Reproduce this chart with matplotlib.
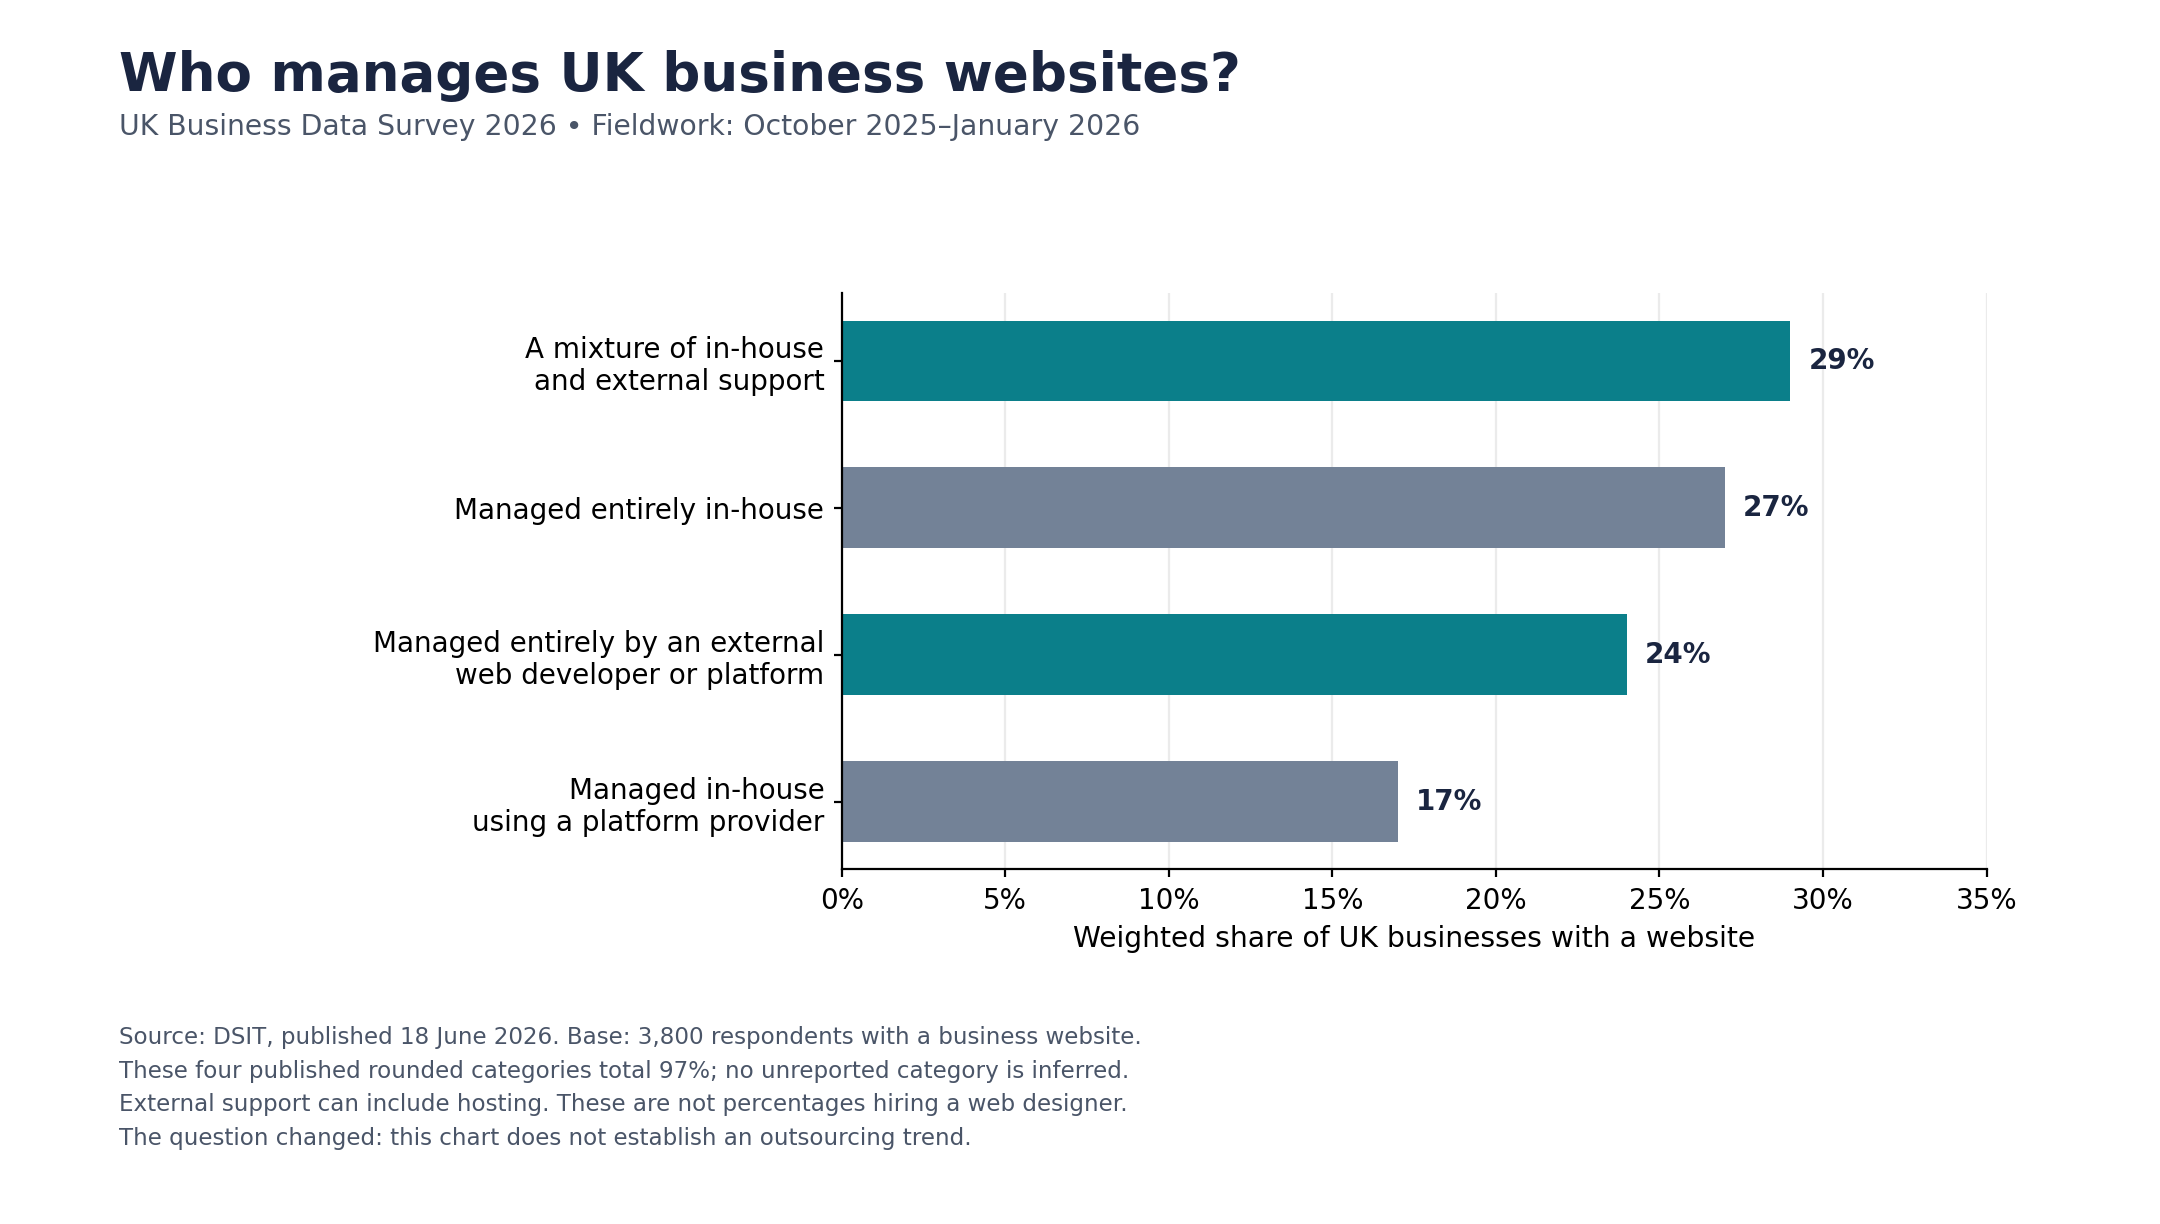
import matplotlib
matplotlib.use("Agg")
import matplotlib.pyplot as plt
from matplotlib.ticker import FuncFormatter, MultipleLocator

categories = [
    "A mixture of in-house\nand external support",
    "Managed entirely in-house",
    "Managed entirely by an external\nweb developer or platform",
    "Managed in-house\nusing a platform provider",
]
values = [29, 27, 24, 17]
bar_colors = ["#0b7f8a", "#738297", "#0b7f8a", "#738297"]
value_labels = ["29%", "27%", "24%", "17%"]

title = "Who manages UK business websites?"
subtitle = "UK Business Data Survey 2026 \u2022 Fieldwork: October 2025\u2013January 2026"
xlabel = "Weighted share of UK businesses with a website"
footnotes = [
    "Source: DSIT, published 18 June 2026. Base: 3,800 respondents with a business website.",
    "These four published rounded categories total 97%; no unreported category is inferred.",
    "External support can include hosting. These are not percentages hiring a web designer.",
    "The question changed: this chart does not establish an outsourcing trend.",
]

plt.rcParams['font.family'] = ['DejaVu Sans']

fig = plt.figure(figsize=(10.8, 6.12), dpi=200)
ax = fig.add_axes([0.3897, 0.2898, 0.5300, 0.4705])

y = list(range(len(categories)))
ax.barh(y, values, height=0.55, color=bar_colors, zorder=2)
for yi, v, lab in zip(y, values, value_labels):
    ax.text(v + 0.55, yi, lab, va="center", ha="left", fontsize=10,
            fontweight="bold", color="#1a2540")

ax.set_yticks(y)
ax.set_yticklabels(categories, fontsize=10, color="black")
ax.set_ylim(3.46, -0.46)
ax.set_xlim(0, 35)
ax.xaxis.set_major_locator(MultipleLocator(5))
ax.xaxis.set_major_formatter(FuncFormatter(lambda x, p: f"{x:.0f}%"))
ax.tick_params(axis="both", length=3, pad=3.3)
ax.tick_params(axis="x", labelsize=10, colors="black")
ax.set_xlabel(xlabel, fontsize=10.2, color="black", labelpad=3.5)
ax.grid(axis="x", color="#ebebeb", linewidth=0.8, zorder=0)
ax.set_axisbelow(True)
for s in ["top", "right"]:
    ax.spines[s].set_visible(False)

fig.text(0.055, 0.9257, title, fontsize=19.15, fontweight="bold", color="#1a2540",
         ha="left", va="baseline")
fig.text(0.055, 0.8895, subtitle, fontsize=10.2, color="#4a5568",
         ha="left", va="baseline")
for i, line in enumerate(footnotes):
    fig.text(0.055, 0.147 - i * 0.0274, line, fontsize=8.3, color="#4a5568",
             ha="left", va="baseline")

fig.savefig("out.png", dpi=200)
